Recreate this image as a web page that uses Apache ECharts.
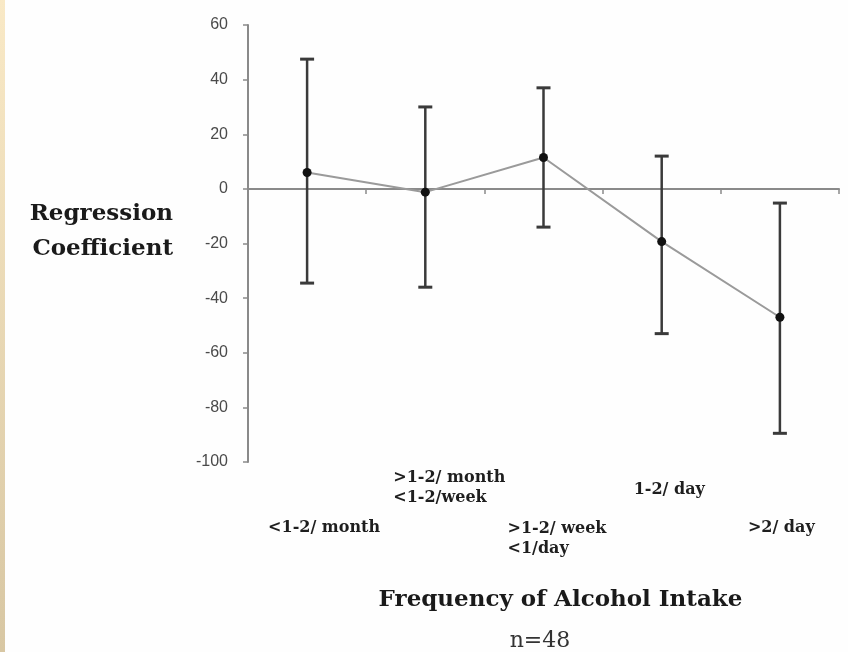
<!DOCTYPE html>
<html>
<head>
<meta charset="utf-8">
<script src="https://cdn.jsdelivr.net/npm/echarts@6/dist/echarts.min.js"></script>
<style>
  html, body { margin: 0; padding: 0; background: #fff; }
  #chart {
    width: 848px; height: 652px;
    background: linear-gradient(#f9e9c6, #d8c7a3) 0 0 / 5px 100% no-repeat, #fefefe;
  }
</style>
</head>
<body>
<div id="chart"></div>
<script>
// Frequency categories of alcohol intake
const categories = ['<1-2/ month', '>1-2/ month\n<1-2/week', '>1-2/ week\n<1/day', '1-2/ day', '>2/ day'];
// Regression coefficient per category, with its interval bounds
const coefficients = [6, -1.2, 11.5, -19.3, -47];
const upperBounds = [47.5, 30, 37, 12, -5.2];
const lowerBounds = [-34.5, -36, -14, -53, -89.5];
// Value axis ticks
const yMin = -100, yMax = 60, yStep = 20;

// Staggered placement of the category labels: [top pad, left pad]
const labelPlacement = [[50, 42], [0, 56], [51, 48], [12, 64], [50, 56]];
const labelBoxWidth = 120;

const serif = 'DejaVu Serif';
const axisGrey = '#8a8a8a';
const barColor = '#3a3a3a';

const chart = echarts.init(document.getElementById('chart'), null, { renderer: 'canvas' });

const intervalData = categories.map((c, i) => [i, lowerBounds[i], upperBounds[i]]);
const labelData = categories.map((c, i) => ({
  value: c,
  textStyle: { padding: [labelPlacement[i][0], 0, 0, labelPlacement[i][1]] }
}));

chart.setOption({
  animation: false,
  backgroundColor: 'transparent',
  grid: { left: 248, right: 9, top: 25, bottom: 190, containLabel: false, outerBoundsMode: 'none' },
  xAxis: [
    {
      type: 'category',
      data: categories,
      position: 'bottom',
      boundaryGap: true,
      axisLine: { onZero: true, lineStyle: { color: axisGrey, width: 2 } },
      axisTick: { show: true, length: 5, alignWithLabel: false, lineStyle: { color: axisGrey, width: 1.5 } },
      axisLabel: { show: false },
      splitLine: { show: false }
    },
    {
      type: 'category',
      data: labelData,
      position: 'bottom',
      boundaryGap: true,
      axisLine: { show: false, onZero: false },
      axisTick: { show: false },
      splitLine: { show: false },
      axisLabel: {
        interval: 0,
        margin: 6,
        formatter: v => v.split('\n').map(s => '{c|' + s + '}').join('\n'),
        rich: {
          c: {
            fontFamily: serif, fontWeight: 'bold', fontSize: 16, lineHeight: 20,
            color: '#1e1e1e', width: labelBoxWidth, align: 'left'
          }
        }
      },
      name: 'Frequency of Alcohol Intake',
      nameLocation: 'middle',
      nameGap: 127,
      nameTextStyle: {
        fontFamily: serif, fontWeight: 'bold', fontSize: 23, color: '#1a1a1a',
        padding: [0, 0, 0, 34]
      }
    }
  ],
  yAxis: {
    type: 'value',
    min: yMin, max: yMax, interval: yStep,
    axisLine: { show: true, onZero: false, lineStyle: { color: axisGrey, width: 2 } },
    axisTick: { show: true, length: 5, lineStyle: { color: axisGrey, width: 1.5 } },
    axisLabel: { margin: 20, fontFamily: 'Liberation Sans', fontSize: 16, color: '#4a4a4a' },
    splitLine: { show: false },
    name: '{n|Regression}\n{n|Coefficient}\n{gap| }',
    nameLocation: 'middle',
    nameRotate: 0,
    nameGap: 75,
    nameTextStyle: {
      align: 'right', verticalAlign: 'middle',
      rich: {
        n: { fontFamily: serif, fontWeight: 'bold', fontSize: 23, lineHeight: 35, color: '#1a1a1a' },
        gap: { fontSize: 10, lineHeight: 24 }
      }
    }
  },
  graphic: [
    {
      type: 'text', x: 540, y: 630,
      style: { text: 'n=48', fontFamily: serif, fontSize: 22, fill: '#333', textAlign: 'center' }
    }
  ],
  series: [
    {
      type: 'custom',
      xAxisIndex: 0,
      data: intervalData,
      encode: { x: 0, y: [1, 2] },
      z: 2,
      renderItem: (params, api) => {
        const top = api.coord([api.value(0), api.value(2)]);
        const bot = api.coord([api.value(0), api.value(1)]);
        const half = 7;
        const capStyle = { stroke: barColor, lineWidth: 3 };
        return {
          type: 'group',
          children: [
            { type: 'line', shape: { x1: top[0], y1: top[1], x2: bot[0], y2: bot[1] }, style: { stroke: barColor, lineWidth: 2.5 } },
            { type: 'line', shape: { x1: top[0] - half, y1: top[1], x2: top[0] + half, y2: top[1] }, style: capStyle },
            { type: 'line', shape: { x1: bot[0] - half, y1: bot[1], x2: bot[0] + half, y2: bot[1] }, style: capStyle }
          ]
        };
      }
    },
    {
      type: 'line',
      xAxisIndex: 0,
      data: coefficients,
      z: 3,
      symbol: 'circle',
      symbolSize: 9,
      itemStyle: { color: '#111' },
      lineStyle: { color: '#9a9a9a', width: 2 }
    }
  ]
});
</script>
</body>
</html>
